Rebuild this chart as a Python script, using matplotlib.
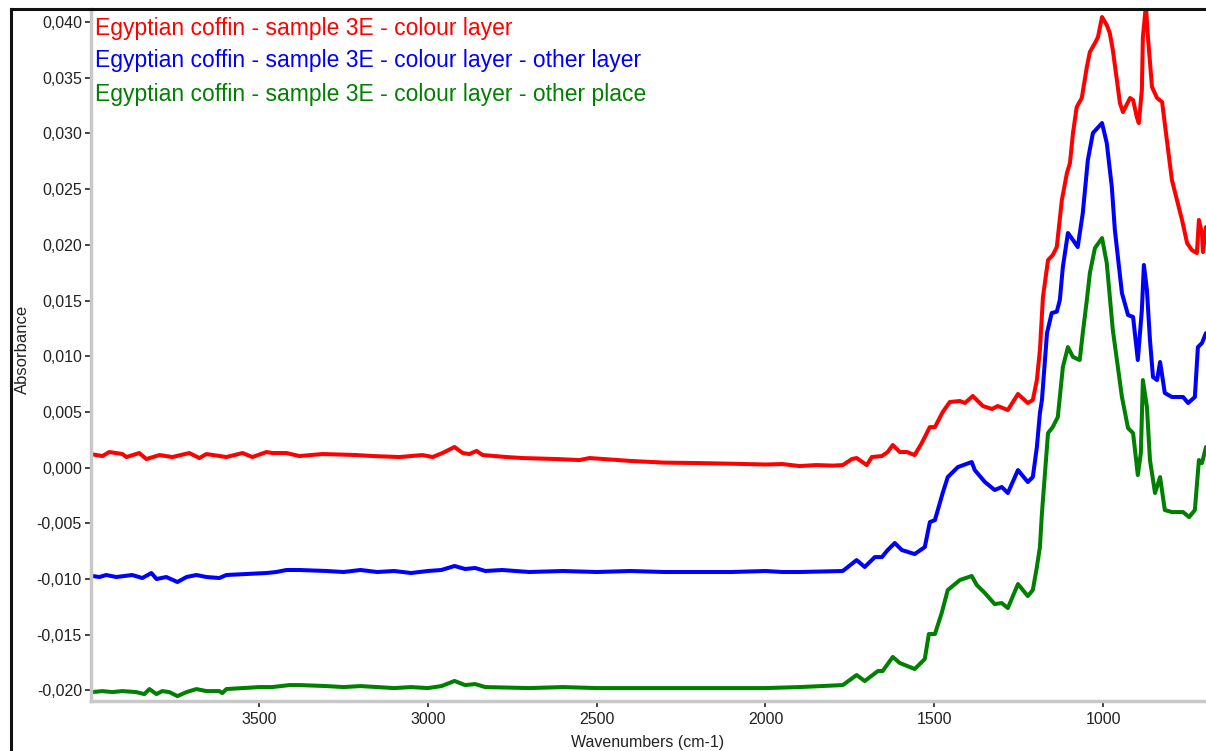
import matplotlib
matplotlib.use("Agg")
import matplotlib.pyplot as plt
from matplotlib.lines import Line2D
from matplotlib.ticker import MultipleLocator, FuncFormatter

plt.rcParams['font.family'] = ['Liberation Sans', 'DejaVu Sans']

# ---- data (wavenumber cm-1, absorbance) ----
red_wn = [4000, 3964, 3944, 3905, 3893, 3855, 3834, 3795, 3757, 3707, 3677, 3656, 3597, 3549,
          3520, 3478, 3461, 3419, 3381, 3312, 3212, 3164, 3084, 3016, 2986, 2957, 2921, 2897,
          2877, 2856, 2838, 2767, 2720, 2619, 2551, 2521, 2400, 2300, 2200, 2100, 2000, 1950,
          1899, 1850, 1800, 1771, 1744, 1730, 1700, 1685, 1655, 1638, 1623, 1602, 1581, 1558,
          1537, 1513, 1498, 1475, 1454, 1424, 1409, 1386, 1356, 1329, 1312, 1282, 1252, 1223,
          1208, 1196, 1187, 1178, 1163, 1149, 1137, 1122, 1107, 1098, 1089, 1078, 1063, 1048,
          1039, 1024, 1015, 1003, 989, 980, 971, 959, 950, 941, 920, 911, 900, 894, 885, 882,
          873, 867, 855, 840, 825, 811, 796, 781, 766, 751, 737, 722, 716, 707, 704, 695]
red_abs = [0.00122, 0.00104, 0.00140, 0.00122, 0.00095, 0.00131, 0.00077, 0.00113, 0.00095,
           0.00131, 0.00086, 0.00122, 0.00095, 0.00131, 0.00095, 0.00140, 0.00131, 0.00131,
           0.00104, 0.00122, 0.00113, 0.00104, 0.00095, 0.00113, 0.00095, 0.00131, 0.00185,
           0.00131, 0.00122, 0.00150, 0.00113, 0.00095, 0.00086, 0.00077, 0.00068, 0.00086,
           0.00060, 0.00045, 0.00041, 0.00035, 0.00028, 0.00032, 0.00014, 0.00023, 0.00018,
           0.00023, 0.00077, 0.00086, 0.00023, 0.00095, 0.00104, 0.00140, 0.00203, 0.00140,
           0.00140, 0.00113, 0.00221, 0.00364, 0.00364, 0.00499, 0.00589, 0.00598, 0.00580,
           0.00643, 0.00553, 0.00526, 0.00553, 0.00517, 0.00661, 0.00580, 0.00607, 0.00786,
           0.01056, 0.01531, 0.01863, 0.01908, 0.01980, 0.02402, 0.02644, 0.02734, 0.03004,
           0.03237, 0.03318, 0.03596, 0.03731, 0.03811, 0.03865, 0.04045, 0.03973, 0.03901,
           0.03749, 0.03479, 0.03273, 0.03192, 0.03318, 0.03300, 0.03147, 0.03093, 0.03390,
           0.03865, 0.04150, 0.03865, 0.03417, 0.03318, 0.03282, 0.02941, 0.02582, 0.02402,
           0.02223, 0.02016, 0.01953, 0.01926, 0.02223, 0.02106, 0.01935, 0.02160]

blue_wn = [3994, 3973, 3953, 3923, 3876, 3846, 3819, 3804, 3775, 3742, 3715, 3686, 3656, 3618,
           3597, 3538, 3478, 3449, 3419, 3381, 3300, 3250, 3200, 3150, 3100, 3050, 3000, 2960,
           2921, 2890, 2860, 2830, 2780, 2700, 2600, 2500, 2400, 2300, 2200, 2100, 2000, 1950,
           1899, 1771, 1730, 1706, 1676, 1655, 1638, 1617, 1596, 1558, 1528, 1513, 1498, 1475,
           1460, 1430, 1389, 1380, 1350, 1321, 1300, 1282, 1252, 1223, 1208, 1202, 1196, 1187,
           1181, 1166, 1152, 1137, 1128, 1119, 1104, 1089, 1075, 1060, 1045, 1030, 1003, 989,
           974, 965, 944, 926, 911, 897, 885, 879, 870, 861, 852, 840, 831, 817, 796, 763, 748,
           728, 719, 707, 695]
blue_abs = [-0.00973, -0.00982, -0.00964, -0.00982, -0.00964, -0.00991, -0.00946, -0.01000,
            -0.00982, -0.01027, -0.00982, -0.00964, -0.00982, -0.00991, -0.00964, -0.00955,
            -0.00946, -0.00937, -0.00919, -0.00919, -0.00928, -0.00937, -0.00919, -0.00937,
            -0.00928, -0.00946, -0.00928, -0.00919, -0.00883, -0.00910, -0.00901, -0.00928,
            -0.00919, -0.00937, -0.00928, -0.00937, -0.00928, -0.00937, -0.00937, -0.00937,
            -0.00928, -0.00937, -0.00937, -0.00928, -0.00830, -0.00892, -0.00803, -0.00803,
            -0.00740, -0.00677, -0.00740, -0.00776, -0.00713, -0.00489, -0.00471, -0.00228,
            -0.00085, 0.00005, 0.00050, -0.00022, -0.00129, -0.00201, -0.00174, -0.00228,
            -0.00022, -0.00129, -0.00085, 0.00050, 0.00185, 0.00490, 0.00607, 0.01208, 0.01388,
            0.01400, 0.01504, 0.01801, 0.02106, 0.02043, 0.01980, 0.02285, 0.02761, 0.03004,
            0.03093, 0.02914, 0.02519, 0.02133, 0.01567, 0.01370, 0.01352, 0.00966, 0.01415,
            0.01819, 0.01594, 0.01145, 0.00813, 0.00786, 0.00948, 0.00670, 0.00634, 0.00634,
            0.00580, 0.00634, 0.01082, 0.01118, 0.01208]

green_wn = [3994, 3964, 3935, 3905, 3864, 3840, 3825, 3804, 3787, 3766, 3742, 3715, 3686, 3656,
            3618, 3609, 3597, 3549, 3499, 3461, 3410, 3381, 3300, 3250, 3200, 3100, 3050, 3000,
            2960, 2921, 2890, 2860, 2830, 2700, 2600, 2500, 2400, 2200, 2000, 1899, 1771, 1730,
            1706, 1667, 1653, 1623, 1602, 1558, 1528, 1516, 1498, 1478, 1460, 1424, 1389, 1374,
            1350, 1321, 1300, 1282, 1252, 1223, 1208, 1196, 1187, 1181, 1163, 1149, 1134, 1119,
            1104, 1089, 1069, 1060, 1048, 1039, 1024, 1003, 989, 971, 944, 926, 911, 897, 888,
            882, 870, 861, 846, 831, 817, 796, 763, 745, 728, 716, 707, 695]
green_abs = [-0.02015, -0.02006, -0.02015, -0.02006, -0.02015, -0.02033, -0.01988, -0.02033,
             -0.02006, -0.02015, -0.02051, -0.02015, -0.01988, -0.02006, -0.02006, -0.02024,
             -0.01988, -0.01979, -0.01970, -0.01970, -0.01952, -0.01952, -0.01961, -0.01970,
             -0.01961, -0.01979, -0.01970, -0.01979, -0.01961, -0.01915, -0.01952, -0.01943,
             -0.01970, -0.01979, -0.01970, -0.01979, -0.01979, -0.01979, -0.01979, -0.01970,
             -0.01952, -0.01862, -0.01916, -0.01826, -0.01826, -0.01700, -0.01754, -0.01808,
             -0.01718, -0.01494, -0.01494, -0.01305, -0.01099, -0.01009, -0.00973, -0.01054,
             -0.01126, -0.01225, -0.01216, -0.01261, -0.01045, -0.01153, -0.01099, -0.00892,
             -0.00713, -0.00408, 0.00310, 0.00364, 0.00454, 0.00903, 0.01082, 0.00993, 0.00966,
             0.01208, 0.01504, 0.01747, 0.01971, 0.02061, 0.01837, 0.01235, 0.00634, 0.00355,
             0.00310, -0.00067, 0.00131, 0.00786, 0.00544, 0.00068, -0.00228, -0.00085,
             -0.00381, -0.00399, -0.00399, -0.00444, -0.00381, 0.00068, 0.00041, 0.00185]

series_labels = ["Egyptian coffin - sample 3E - colour layer",
                 "Egyptian coffin - sample 3E - colour layer - other layer",
                 "Egyptian coffin - sample 3E - colour layer - other place"]
series_colors = ["#ff0000", "#0000ff", "#008000"]

x_label = "Wavenumbers (cm-1)"
y_label = "Absorbance"

# ---- figure ----
W, H = 1206, 751
fig = plt.figure(figsize=(W / 100, H / 100), dpi=100)
ax_l, ax_r, ax_b, ax_t = 91, 1206, 701, 9
ax = fig.add_axes([ax_l / W, 1 - ax_b / H, (ax_r - ax_l) / W, (ax_b - ax_t) / H])

for wn, ab, c in zip([red_wn, blue_wn, green_wn], [red_abs, blue_abs, green_abs], series_colors):
    ax.plot(wn, ab, color=c, lw=2.9, solid_joinstyle='round', solid_capstyle='round')

ax.set_xlim(3998, 695)
ax.set_ylim(-0.02095, 0.04117)

ax.xaxis.set_major_locator(MultipleLocator(500))
ax.xaxis.set_minor_locator(MultipleLocator(100))
ax.yaxis.set_major_locator(MultipleLocator(0.005))
ax.yaxis.set_minor_locator(MultipleLocator(0.00125))
ax.yaxis.set_major_formatter(FuncFormatter(lambda v, p: f"{v:.3f}".replace('.', ',').replace('-0,000', '0,000')))
ax.xaxis.set_major_formatter(FuncFormatter(lambda v, p: f"{int(round(v))}"))

for s in ['top', 'right']:
    ax.spines[s].set_visible(False)
for s in ['left', 'bottom']:
    ax.spines[s].set_color('#c8c8c8')
    ax.spines[s].set_linewidth(2.5)

ax.tick_params(which='major', length=4, width=1.2, color='#222222', direction='out',
               labelsize=11.5, labelcolor='#222222')
ax.tick_params(which='minor', length=2, width=1.3, color='#222222', direction='inout')
ax.tick_params(axis='y', which='major', pad=2.5)
ax.tick_params(axis='x', which='major', pad=4)

# legend-like coloured titles
for i, (lab, c) in enumerate(zip(series_labels, series_colors)):
    fig.text(95 / W, 1 - (28 + 33 * i) / H, lab, color=c, fontsize=16.5, va='center', ha='left')

fig.text(22 / W, 1 - 349 / H, y_label, rotation=90, fontsize=12, va='center', ha='center',
         color='#222222')
fig.text(648 / W, 1 - 742 / H, x_label, fontsize=11.5, va='center', ha='center', color='#222222')

# outer frame lines (top and left)
fig.add_artist(Line2D([10.5 / W, 1.0], [1 - 8.5 / H, 1 - 8.5 / H], color='#111111', lw=2.2,
                      transform=fig.transFigure))
fig.add_artist(Line2D([10.5 / W, 10.5 / W], [1 - 8.5 / H, 0.0], color='#111111', lw=2.2,
                      transform=fig.transFigure))

fig.savefig("out.png", dpi=100)
